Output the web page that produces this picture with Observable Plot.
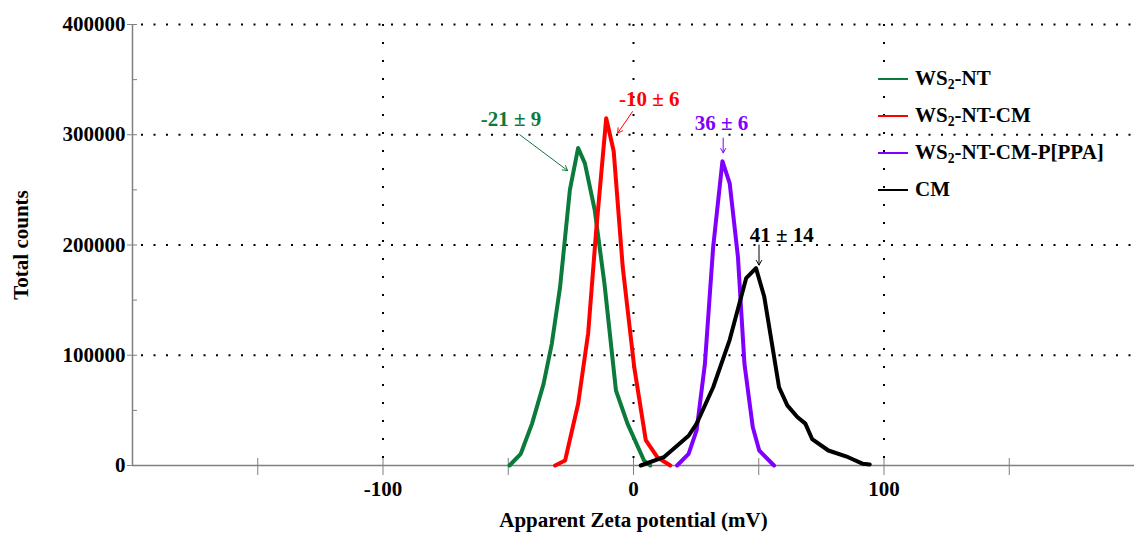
<!DOCTYPE html>
<html><head><meta charset="utf-8">
<script src="https://cdn.jsdelivr.net/npm/d3@7"></script>
<script src="https://cdn.jsdelivr.net/npm/@observablehq/plot@0.6"></script>
<style>
body{margin:0;background:#fff;}
#wrap{position:relative;width:1134px;height:533px;font-family:"Liberation Serif","Times New Roman",serif;}
.legend{position:absolute;left:878px;top:60px;font-weight:bold;font-size:21px;color:#000;}
.legend .row{display:flex;align-items:center;height:37px;white-space:nowrap;}
.legend .sw{width:30px;height:0;border-top:2.5px solid;margin-right:7px;}
.legend sub{font-size:0.65em;vertical-align:-0.3em;line-height:0;}
</style></head><body><div id="wrap"></div>
<script>
// ---- data ----
const seriesNames = ["WS2-NT", "WS2-NT-CM", "WS2-NT-CM-P[PPA]", "CM"];
const seriesColors = ["#0b7a3b", "#ff0000", "#8000ff", "#000000"];

const xWS2NT = [-49.5,-45,-40.5,-35.9,-32.6,-29.3,-25.4,-22.1,-19.4,-15.5,-11.6,-7,-2.4,4.2,6.7];
const yWS2NT = [0,10600,38000,74000,110600,162000,250000,288000,274000,232000,165000,68000,38000,4500,0];

const xWS2NTCM = [-31.3,-27.3,-22.1,-18.1,-14.9,-10.9,-7.9,-4.3,0.3,4.9,9.5,14.7];
const yWS2NTCM = [0,4500,56000,120000,213000,315000,285000,180000,89000,23000,7500,0];

const xWS2NTCMP = [17.4,22,25.2,28.5,31.8,35.5,38.4,41.7,44.3,47.6,50.2,56.1];
const yWS2NTCMP = [0,10600,32000,92000,198000,276000,256000,189000,92000,35000,13600,0];

const xCM = [2.9,12.1,22,25.2,31.8,38.4,45,48.9,52.2,54.8,58.1,61.4,65.4,68.6,71.3,77.8,85.7,91.6,94.3];
const yCM = [0,7500,27000,38000,71000,114000,170000,179000,153000,117000,71000,54500,44000,38000,24000,13600,7500,1500,1000];

const xValues = [xWS2NT, xWS2NTCM, xWS2NTCMP, xCM];
const yValues = [yWS2NT, yWS2NTCM, yWS2NTCMP, yCM];

// annotations: label, text position, arrow start -> arrow end
const annLabels = ["-21 \u00b1 9", "-10 \u00b1 6", "36 \u00b1 6", "41 \u00b1 14"];
const annX = [-48.9, 6.3, 35.1, 59.2];
const annY = [313600, 331800, 310000, 209000];
const annX1 = [-45.4, -0.4, 35.8, 50.1];
const annY1 = [300000, 321000, 297000, 200000];
const annX2 = [-26.3, -6.3, 35.8, 50.1];
const annY2 = [267500, 301500, 283600, 181800];

const xTickLabels = [-100, 0, 100];
const xTicksAll = [-150, -100, -50, 0, 50, 100, 150];
const yTickLabels = [0, 100000, 200000, 300000, 400000];
const yTicksMinor = [50000, 150000, 250000, 350000];
const yGrid = [100000, 200000, 300000, 400000];
const xGrid = [-100, 0, 100];

// ---- build ----
const marks = [
  Plot.ruleY(yGrid, {stroke: "#000", strokeWidth: 2, strokeDasharray: "2,10.5", strokeDashoffset: -9}),
  Plot.ruleX(xGrid, {stroke: "#000", strokeWidth: 2, strokeDasharray: "2,16"}),
  Plot.ruleY([0], {stroke: "#808080", strokeWidth: 1.5}),
  Plot.ruleX([-200], {stroke: "#808080", strokeWidth: 1.5}),
  Plot.axisY({ticks: yTickLabels, tickSize: 5, tickPadding: 2, tickFormat: d => String(d), stroke: "#808080", fontSize: 21,
    label: "Total counts", labelAnchor: "center", labelArrow: "none", labelOffset: 119}),
  Plot.axisY({ticks: yTickLabels.concat(yTicksMinor), tickSize: -5, tickFormat: () => "", stroke: "#808080", label: null}),
  Plot.axisX({ticks: xTicksAll, tickSize: 10, tickFormat: () => "", stroke: "#808080", label: null}),
  Plot.axisX({ticks: xTicksAll, tickSize: -7, tickFormat: () => "", stroke: "#808080", label: null}),
  Plot.axisX({ticks: xTickLabels, tickSize: 0, tickPadding: 16, tickFormat: d => String(d), fontSize: 21,
    label: "Apparent Zeta potential (mV)", labelAnchor: "center", labelArrow: "none", labelOffset: 61})
];

seriesNames.forEach((name, i) => {
  const rows = xValues[i].map((x, j) => ({x, y: yValues[i][j]}));
  marks.push(Plot.line(rows, {x: "x", y: "y", stroke: seriesColors[i], strokeWidth: 4, strokeLinejoin: "round"}));
});

annLabels.forEach((lab, i) => {
  const a = [{x: annX[i], y: annY[i], x1: annX1[i], y1: annY1[i], x2: annX2[i], y2: annY2[i], t: lab}];
  marks.push(Plot.arrow(a, {x1: "x1", y1: "y1", x2: "x2", y2: "y2", stroke: seriesColors[i], strokeWidth: 1, headLength: 8}));
  marks.push(Plot.text(a, {x: "x", y: "y", text: "t", fill: seriesColors[i], fontSize: 21, fontWeight: "bold"}));
});

const chart = Plot.plot({
  width: 1134, height: 533,
  marginLeft: 132, marginRight: 0, marginTop: 24, marginBottom: 68,
  style: {fontFamily: "'Liberation Serif','Times New Roman',serif", fontSize: "22px", fontWeight: "bold", color: "#000", background: "#fff", overflow: "visible"},
  x: {domain: [-200, 200]},
  y: {domain: [0, 400000]},
  marks
});

const wrap = document.getElementById("wrap");
wrap.appendChild(chart);

const legend = document.createElement("div");
legend.className = "legend";
const legendHTML = ["WS<sub>2</sub>-NT", "WS<sub>2</sub>-NT-CM", "WS<sub>2</sub>-NT-CM-P[PPA]", "CM"];
seriesNames.forEach((n, i) => {
  const row = document.createElement("div");
  row.className = "row";
  row.innerHTML = `<span class="sw" style="border-color:${seriesColors[i]}"></span><span>${legendHTML[i]}</span>`;
  legend.appendChild(row);
});
wrap.appendChild(legend);
</script>
</body></html>
